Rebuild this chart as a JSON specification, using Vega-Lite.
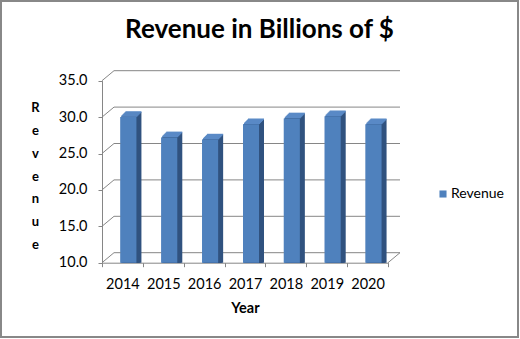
{
  "$schema": "https://vega.github.io/schema/vega-lite/v6.json",
  "autosize": "none",
  "width": 517,
  "height": 336,
  "padding": 1,
  "background": "white",
  "config": {"view": {"stroke": "#888888", "strokeWidth": 2}},
  "title": {"text": "Revenue in Billions of $", "font": "Lato", "fontSize": 26, "fontWeight": "bold", "color": "#000000", "anchor": "middle", "frame": "group", "offset": -63, "baseline": "alphabetic"},
  "datasets": {
    "rev": [
      {"Year": "2014", "Revenue": 29.6},
      {"Year": "2015", "Revenue": 26.8},
      {"Year": "2016", "Revenue": 26.5},
      {"Year": "2017", "Revenue": 28.6},
      {"Year": "2018", "Revenue": 29.4},
      {"Year": "2019", "Revenue": 29.7},
      {"Year": "2020", "Revenue": 28.6}
    ],
    "grid": [{"v": 10}, {"v": 15}, {"v": 20}, {"v": 25}, {"v": 30}, {"v": 35}],
    "floor": [{"v": 10}]
  },
  "layer": [
    {
      "data": {"name": "rev"},
      "mark": {"type": "bar", "size": 16, "xOffset": 6, "yOffset": -3},
      "encoding": {
        "x": {"field": "Year", "type": "ordinal", "scale": {"domain": ["2014","2015","2016","2017","2018","2019","2020"], "range": [101, 387], "paddingInner": 0, "paddingOuter": 0},
          "axis": {"title": "Year", "tickBand": "extent", "offset": -74.3, "grid": false, "tickSize": 4, "tickColor": "#868686", "domainColor": "#868686", "labelFont": "Lato", "labelFontSize": 14.5, "labelColor": "#000000", "labelAngle": 0, "labelBaseline": "alphabetic", "labelPadding": 21.6, "titleFont": "Lato", "titleFontSize": 14.5, "titleFontWeight": "bold", "titleColor": "#000000", "titleBaseline": "alphabetic", "titleY": 49.3}},
        "y": {"field": "Revenue", "type": "quantitative", "scale": {"domain": [10, 35], "range": [261.7, 79.7], "nice": false, "zero": false},
          "axis": {"title": ["R", "e", "v", "e", "n", "u", "e"], "titleAngle": 0, "titleX": -67, "titleY": 110.7, "titleAlign": "center", "titleBaseline": "alphabetic", "titleLineHeight": 22.8, "titleFont": "Lato", "titleFontSize": 13, "titleFontWeight": "bold", "titleColor": "#000000", "offset": -101, "grid": false, "values": [10, 15, 20, 25, 30, 35], "format": ".1f", "tickSize": 4, "tickColor": "#868686", "domainColor": "#868686", "labelFont": "Lato", "labelFontSize": 14.5, "labelColor": "#000000", "labelPadding": 11}},
        "y2": {"datum": 10},
        "color": {"datum": "Revenue", "type": "nominal", "scale": {"range": ["#4F81BD"]},
          "legend": {"title": null, "orient": "none", "legendX": 435, "legendY": 186, "symbolType": "square", "symbolSize": 50, "symbolStrokeWidth": 0, "labelFont": "Lato", "labelFontSize": 14, "labelColor": "#000000", "labelOffset": 1, "padding": 0}}
      }
    },
    {
      "data": {"name": "grid"},
      "mark": {"type": "rule", "color": "#868686", "strokeWidth": 1, "xOffset": 12, "x2Offset": 12, "yOffset": -10},
      "encoding": {
        "x": {"datum": "2014", "type": "ordinal", "bandPosition": 0, "scale": {"domain": ["2014","2015","2016","2017","2018","2019","2020"], "range": [101, 387], "paddingInner": 0, "paddingOuter": 0}},
        "x2": {"datum": "2020", "bandPosition": 1},
        "y": {"field": "v", "type": "quantitative", "scale": {"domain": [10, 35], "range": [261.7, 79.7], "nice": false, "zero": false}}
      }
    },
    {
      "data": {"name": "grid"},
      "mark": {"type": "point", "shape": "M0,0L12,-10", "size": 4, "filled": false, "color": "#868686", "strokeWidth": 1, "opacity": 1},
      "encoding": {
        "x": {"datum": "2014", "type": "ordinal", "bandPosition": 0, "scale": {"domain": ["2014","2015","2016","2017","2018","2019","2020"], "range": [101, 387], "paddingInner": 0, "paddingOuter": 0}},
        "y": {"field": "v", "type": "quantitative", "scale": {"domain": [10, 35], "range": [261.7, 79.7], "nice": false, "zero": false}}
      }
    },
    {
      "data": {"name": "floor"},
      "mark": {"type": "point", "shape": "M0,0L12,-10", "size": 4, "filled": false, "color": "#868686", "strokeWidth": 1, "opacity": 1},
      "encoding": {
        "x": {"datum": "2020", "type": "ordinal", "bandPosition": 1, "scale": {"domain": ["2014","2015","2016","2017","2018","2019","2020"], "range": [101, 387], "paddingInner": 0, "paddingOuter": 0}},
        "y": {"field": "v", "type": "quantitative", "scale": {"domain": [10, 35], "range": [261.7, 79.7], "nice": false, "zero": false}}
      }
    },
    {
      "data": {"name": "rev"},
      "layer": [
        {"mark": {"type": "bar", "size": 16, "color": "#30527f", "xOffset": 7, "yOffset": -4}},
        {"mark": {"type": "bar", "size": 16, "color": "#30527f", "xOffset": 8, "yOffset": -5}},
        {"mark": {"type": "bar", "size": 16, "color": "#30527f", "xOffset": 9, "yOffset": -6}},
        {"mark": {"type": "bar", "size": 16, "color": "#30527f", "xOffset": 10, "yOffset": -7}},
        {"mark": {"type": "bar", "size": 16, "color": "#30527f", "xOffset": 11, "yOffset": -8}}
      ],
      "encoding": {
        "x": {"field": "Year", "type": "ordinal", "scale": {"domain": ["2014","2015","2016","2017","2018","2019","2020"], "range": [101, 387], "paddingInner": 0, "paddingOuter": 0}},
        "y": {"field": "Revenue", "type": "quantitative", "scale": {"domain": [10, 35], "range": [261.7, 79.7], "nice": false, "zero": false}},
        "y2": {"datum": 10}
      }
    },
    {
      "data": {"name": "rev"},
      "layer": [
        {"mark": {"type": "tick", "size": 16, "thickness": 1.6, "color": "#5a8ac6", "opacity": 1, "xOffset": 7, "yOffset": -4}},
        {"mark": {"type": "tick", "size": 16, "thickness": 1.6, "color": "#5a8ac6", "opacity": 1, "xOffset": 8, "yOffset": -5}},
        {"mark": {"type": "tick", "size": 16, "thickness": 1.6, "color": "#5a8ac6", "opacity": 1, "xOffset": 9, "yOffset": -6}},
        {"mark": {"type": "tick", "size": 16, "thickness": 1.6, "color": "#5a8ac6", "opacity": 1, "xOffset": 10, "yOffset": -7}},
        {"mark": {"type": "tick", "size": 16, "thickness": 1.6, "color": "#5a8ac6", "opacity": 1, "xOffset": 11, "yOffset": -8}}
      ],
      "encoding": {
        "x": {"field": "Year", "type": "ordinal", "scale": {"domain": ["2014","2015","2016","2017","2018","2019","2020"], "range": [101, 387], "paddingInner": 0, "paddingOuter": 0}},
        "y": {"field": "Revenue", "type": "quantitative", "scale": {"domain": [10, 35], "range": [261.7, 79.7], "nice": false, "zero": false}}
      }
    },
    {
      "data": {"name": "rev"},
      "mark": {"type": "bar", "size": 16, "xOffset": 6, "yOffset": -3, "color": "#4F81BD"},
      "encoding": {
        "x": {"field": "Year", "type": "ordinal", "scale": {"domain": ["2014","2015","2016","2017","2018","2019","2020"], "range": [101, 387], "paddingInner": 0, "paddingOuter": 0}},
        "y": {"field": "Revenue", "type": "quantitative", "scale": {"domain": [10, 35], "range": [261.7, 79.7], "nice": false, "zero": false}},
        "y2": {"datum": 10}
      }
    }
  ]
}
